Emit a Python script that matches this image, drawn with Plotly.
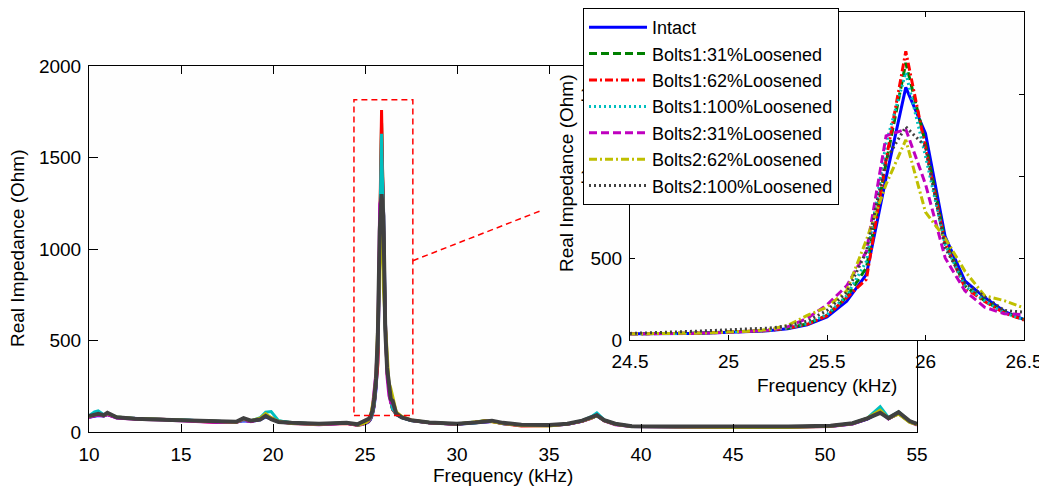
import plotly.graph_objects as go

# ---------------- data ----------------
series_names = ["Intact", "Bolts1:31%Loosened", "Bolts1:62%Loosened", "Bolts1:100%Loosened",
                "Bolts2:31%Loosened", "Bolts2:62%Loosened", "Bolts2:100%Loosened"]

# frequency grids (kHz)
low_freq = [10.0, 10.3, 10.5, 10.8, 11.0, 11.5, 12.5, 14.0, 15.5, 17.0, 18.0, 18.4, 18.8, 19.3,
            19.6, 19.9, 20.3, 21.0, 22.5, 24.0]
inset_freq = [24.5, 24.6, 24.7, 24.8, 24.9, 25.0, 25.1, 25.2, 25.3, 25.4, 25.5, 25.6, 25.7, 25.8,
              25.9, 26.0, 26.1, 26.2, 26.3, 26.4, 26.5]
high_freq = [26.7, 27.0, 27.5, 28.5, 30.0, 31.0, 31.5, 31.9, 32.5, 33.5, 35.0, 36.0, 36.8, 37.3,
             37.6, 38.0, 38.6, 39.5, 42.0, 45.0, 48.0, 50.3, 51.5, 52.3, 53.0, 53.45, 54.0, 54.6, 55.0]

# Intact
intact_low = [80, 85, 90, 88, 95, 78, 74, 70, 63, 57, 55, 62, 58, 66, 82, 72, 58, 48, 42, 48]
intact_peak = [38, 38, 39, 40, 43, 46, 50, 56, 68, 92, 140, 236, 400, 990, 1540, 1260, 630, 360, 260, 175, 125]
intact_high = [95, 78, 62, 50, 42, 50, 55, 58, 45, 38, 36, 42, 58, 75, 88, 62, 42, 30, 28, 30, 28,
               32, 45, 70, 110, 72, 100, 55, 42]
# Bolts1: 31%
b1_31_low = [85, 90, 95, 88, 98, 80, 73, 68, 62, 55, 54, 68, 60, 70, 86, 75, 60, 50, 44, 49]
b1_31_peak = [38, 38, 39, 41, 44, 48, 52, 58, 72, 98, 150, 262, 440, 1080, 1690, 1200, 600, 330, 240, 170, 125]
b1_31_high = [97, 80, 63, 51, 44, 55, 62, 58, 47, 36, 35, 43, 60, 76, 90, 63, 44, 31, 29, 27, 29,
              33, 47, 72, 115, 74, 104, 57, 43]
# Bolts1: 62%
b1_62_low = [82, 88, 96, 90, 96, 79, 72, 69, 61, 52, 53, 66, 58, 69, 88, 78, 58, 49, 43, 47]
b1_62_peak = [38, 38, 39, 41, 44, 48, 53, 58, 72, 96, 148, 258, 370, 1100, 1760, 1170, 590, 320, 235, 165, 122]
b1_62_high = [98, 82, 64, 50, 43, 54, 60, 57, 46, 33, 36, 44, 60, 77, 91, 64, 43, 31, 28, 28, 27,
              34, 47, 74, 118, 75, 105, 58, 44]
# Bolts1: 100%
b1_100_low = [88, 110, 116, 95, 100, 82, 74, 70, 64, 56, 55, 64, 60, 78, 108, 112, 62, 50, 44, 50]
b1_100_peak = [38, 38, 39, 41, 44, 48, 53, 60, 74, 100, 155, 270, 480, 1200, 1630, 1120, 580, 330, 240, 165, 125]
b1_100_high = [102, 80, 64, 52, 44, 51, 58, 60, 47, 37, 36, 44, 62, 84, 104, 66, 44, 32, 29, 29, 28,
               33, 48, 76, 138, 78, 110, 58, 44]
# Bolts2: 31%
b2_31_low = [80, 86, 92, 88, 95, 76, 70, 66, 57, 52, 52, 68, 56, 74, 96, 74, 56, 46, 40, 48]
b2_31_peak = [38, 38, 39, 40, 43, 47, 52, 60, 80, 132, 215, 330, 540, 1245, 1285, 950, 500, 300, 200, 160, 155]
b2_31_high = [104, 82, 64, 50, 42, 53, 58, 58, 46, 36, 34, 42, 58, 74, 92, 60, 40, 30, 28, 25, 26,
              30, 44, 72, 115, 72, 102, 55, 38]
# Bolts2: 62%
b2_62_low = [84, 92, 98, 92, 100, 82, 74, 68, 62, 54, 54, 72, 62, 76, 100, 78, 58, 47, 42, 50]
b2_62_peak = [38, 38, 39, 41, 44, 48, 54, 63, 88, 150, 200, 300, 610, 950, 1220, 780, 620, 420, 270, 240, 195]
b2_62_high = [110, 85, 66, 52, 44, 55, 60, 56, 46, 36, 33, 43, 60, 76, 90, 62, 42, 30, 27, 24, 25,
              31, 46, 76, 120, 74, 98, 52, 40]
# Bolts2: 100%
b2_100_low = [87, 95, 100, 92, 105, 80, 72, 67, 62, 58, 56, 76, 62, 68, 88, 70, 55, 50, 45, 50]
b2_100_peak = [40, 42, 48, 52, 55, 62, 68, 72, 86, 115, 180, 290, 540, 1100, 1300, 1180, 560, 350, 265, 180, 170]
b2_100_high = [100, 80, 65, 52, 45, 52, 60, 62, 50, 40, 38, 45, 62, 78, 92, 65, 45, 32, 30, 30, 30,
               34, 48, 75, 105, 76, 108, 60, 45]

low_values = [intact_low, b1_31_low, b1_62_low, b1_100_low, b2_31_low, b2_62_low, b2_100_low]
peak_values = [intact_peak, b1_31_peak, b1_62_peak, b1_100_peak, b2_31_peak, b2_62_peak, b2_100_peak]
high_values = [intact_high, b1_31_high, b1_62_high, b1_100_high, b2_31_high, b2_62_high, b2_100_high]

main_xticks = [10, 15, 20, 25, 30, 35, 40, 45, 50, 55]
main_yticks = [0, 500, 1000, 1500, 2000]
inset_xticks = [24.5, 25, 25.5, 26, 26.5]
inset_xticklabels = ["24.5", "25", "25.5", "26", "26.5"]
inset_yticks = [0, 500, 1000, 1500, 2000]
zoom_box_x = [24.4, 27.6]
zoom_box_y = [90, 1815]
connector_y = 936

# ---------------- styles / layout geometry ----------------
colors = ["#0000FF", "#008000", "#FF0000", "#00BFBF", "#BF00BF", "#BFBF00", "#404040"]
dashes = ["solid", "8px,4px", "8px,3px,2px,3px", "2px,3px", "8px,4px", "8px,3px,2px,3px", "2px,3px"]
FONT = "Arial, 'Liberation Sans', sans-serif"
FS = 19

OFF = 8  # default page body margin
PAGE_W, PAGE_H = 1047, 490
W, H = PAGE_W - OFF, PAGE_H - OFF
# page-pixel positions of the plot areas
ML = 89 - OFF
MR = PAGE_W - 1024
MT = 12 - OFF
MB = PAGE_H - 432
PW, PH = W - ML - MR, H - MT - MB


def px_x(p):
    return (p - OFF - ML) / PW


def px_y(p):
    return (H - MB - (p - OFF)) / PH


main_xdom = [0, px_x(917)]
main_ydom = [0, px_y(66)]
inset_xdom = [px_x(630), px_x(1024)]
inset_ydom = [px_y(340), px_y(12)]

fig = go.Figure()

# main traces
for i, name in enumerate(series_names):
    fig.add_trace(go.Scatter(
        x=low_freq + inset_freq + high_freq,
        y=low_values[i] + peak_values[i] + high_values[i],
        mode="lines", name=name, showlegend=False,
        line=dict(color=colors[i], width=4 if i == 6 else 3),
        xaxis="x", yaxis="y", hoverinfo="skip"))

# inset traces
for i, name in enumerate(series_names):
    fig.add_trace(go.Scatter(
        x=inset_freq, y=peak_values[i], mode="lines", name=name,
        line=dict(color=colors[i], width=3, dash=dashes[i]),
        xaxis="x2", yaxis="y2"))

axis_common = dict(showgrid=False, zeroline=False, showline=True, linecolor="black",
                   linewidth=1, mirror="ticks", ticks="inside", tickcolor="black",
                   automargin=False, tickfont=dict(family=FONT, size=FS, color="black"))

fig.update_layout(
    width=W, height=H,
    margin=dict(l=ML, r=MR, t=MT, b=MB, autoexpand=False),
    paper_bgcolor="#ffffff", plot_bgcolor="#fefefe",
    font=dict(family=FONT, size=FS, color="black"),
    xaxis=dict(domain=main_xdom, range=[10, 55], tickvals=main_xticks, ticklen=8,
               ticklabelstandoff=5, anchor="y", **axis_common),
    yaxis=dict(domain=main_ydom, range=[0, 2000], tickvals=main_yticks, ticklen=9,
               ticklabelstandoff=3, anchor="x", **axis_common),
    xaxis2=dict(domain=inset_xdom, range=[24.5, 26.5], tickvals=inset_xticks,
                ticktext=inset_xticklabels, ticklen=5, ticklabelstandoff=4, anchor="y2",
                **axis_common),
    yaxis2=dict(domain=inset_ydom, range=[0, 2000], tickvals=inset_yticks, ticklen=5,
                ticklabelstandoff=3, anchor="x2", **axis_common),
    legend=dict(x=px_x(583), y=px_y(8), xanchor="left", yanchor="top",
                bgcolor="white", bordercolor="black", borderwidth=1,
                font=dict(family=FONT, size=18, color="black"),
                tracegroupgap=0, itemwidth=58),
    showlegend=True,
)

# axis titles
title_font = dict(family=FONT, size=FS, color="black")
fig.add_annotation(text="Frequency (kHz)", xref="paper", yref="paper", x=px_x(503), y=px_y(475),
                   xanchor="center", yanchor="middle", showarrow=False, font=title_font)
fig.add_annotation(text="Real Impedance (Ohm)", xref="paper", yref="paper", x=px_x(17), y=px_y(249),
                   xanchor="center", yanchor="middle", showarrow=False, textangle=-90, font=title_font)
fig.add_annotation(text="Frequency (kHz)", xref="paper", yref="paper", x=px_x(827), y=px_y(385),
                   xanchor="center", yanchor="middle", showarrow=False, font=title_font)
fig.add_annotation(text="Real Impedance (Ohm)", xref="paper", yref="paper", x=px_x(567), y=px_y(174),
                   xanchor="center", yanchor="middle", showarrow=False, textangle=-90, font=title_font)

# zoom box and connector
fig.add_shape(type="rect", xref="x", yref="y", x0=zoom_box_x[0], x1=zoom_box_x[1],
              y0=zoom_box_y[0], y1=zoom_box_y[1], line=dict(color="red", width=1.5, dash="6px,4px"),
              layer="above")
cx = main_xdom[0] + (zoom_box_x[1] - 10) / 45 * (main_xdom[1] - main_xdom[0])
cy = main_ydom[0] + connector_y / 2000 * (main_ydom[1] - main_ydom[0])
fig.add_shape(type="line", xref="paper", yref="paper", x0=cx, y0=cy, x1=px_x(540), y1=px_y(211),
              line=dict(color="red", width=1.5, dash="6px,4px"), layer="above")

fig.write_html("out.html")
